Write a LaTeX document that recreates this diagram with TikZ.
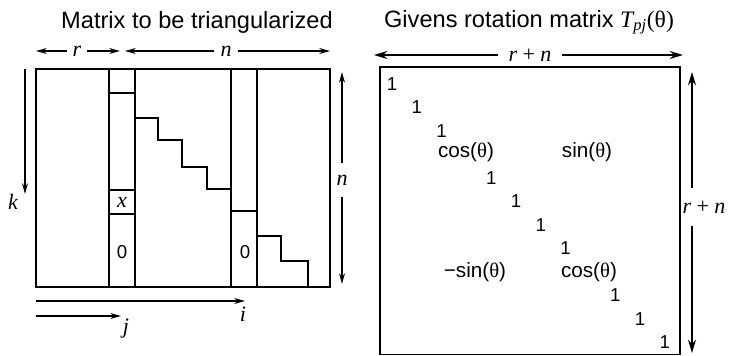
\documentclass[tikz,border=0pt]{standalone}
\usepackage{fontspec}
\setmainfont{Liberation Sans}
\newfontfamily\tms{Liberation Serif}
\usetikzlibrary{arrows.meta}
\newcommand{\mi}[1]{{\tms\itshape #1}}
\newcommand{\tht}{{\tms θ}}
\tikzset{
  frame/.style={draw=black,line width=1.4pt},
  rule/.style={black,line width=1.4pt},
  dim/.style={-{Stealth[length=8pt,width=4.4pt]},line width=1.2pt},
  bigdim/.style={-{Stealth[length=10pt,width=6pt]},line width=1.3pt},
  ttl/.style={font=\fontsize{17.7}{20}\selectfont},
  lab/.style={font=\fontsize{16.5}{19}\selectfont\tms\itshape,inner sep=1pt},
  one/.style={font=\fontsize{14}{16}\selectfont,inner sep=0pt},
  trig/.style={font=\fontsize{15.5}{18}\selectfont,inner sep=0pt},
}
\begin{document}
\begin{tikzpicture}[x=0.75pt,y=-0.75pt]
\useasboundingbox (0,0) rectangle (733,356);
% ================= Matrix to be triangularized =================
\node[ttl] (ttlA) at (197,22) {Matrix to be triangularized};
\draw[frame] (36,69) rectangle (330,287);
% columns j and i
\draw[rule] (109,69) -- (109,287) (135,69) -- (135,287);
\draw[rule] (231,69) -- (231,287) (257,69) -- (257,287);
\draw[rule] (109,93) -- (135,93);
\draw[rule] (109,190) -- (135,190) (109,214) -- (135,214);
\draw[rule] (231,211) -- (257,211);
% staircases
\draw[rule] (135,118) -| (158,140) -| (182,167) -| (207,189) -- (231,189);
\draw[rule] (257,236) -| (281,261) -| (308,287);
\node[lab] (xel) at (122,202) {x};
\node[one] (zj) at (122,252) {0};
\node[one] (zi) at (245,252) {0};
% dimensions
\coordinate (rL) at (36,51);  \coordinate (rR) at (120,51);
\coordinate (nL) at (125,51); \coordinate (nR) at (330,51);
\node[lab,inner xsep=4pt] (r) at (77,51) {r};
\node[lab,inner xsep=5pt] (n) at (226,51) {n};
\draw[dim] (r) -- (rL);  \draw[dim] (r) -- (rR);
\draw[dim] (n) -- (nL);  \draw[dim] (n) -- (nR);
\coordinate (kT) at (25,69); \coordinate (kB) at (25,194);
\draw[dim] (kT) -- (kB);
\node[lab] (k) at (13,202) {k};
\coordinate (vT) at (342,72); \coordinate (vB) at (342,284);
\node[lab,inner ysep=9pt] (nv) at (342,180) {n};
\draw[dim] (nv) -- (vT); \draw[dim] (nv) -- (vB);
\coordinate (bL) at (36,301); \coordinate (iR) at (245,301);
\coordinate (bL2) at (36,316); \coordinate (jR) at (121,316);
\draw[dim] (bL) -- (iR);
\draw[dim] (bL2) -- (jR);
\node[lab] (i) at (243,314) {i};
\node[lab] (j) at (126,329) {j};

% ================= Givens rotation matrix =================
\node[ttl] (ttlB) at (529,22) {Givens rotation matrix \mi{T}\textsubscript{\mi{pj}}{\tms(θ)}};
\draw[frame] (380,67) rectangle (680,354.5);
\coordinate (gL) at (374,55); \coordinate (gR) at (683,55);
\node[lab,inner xsep=8pt] (rn) at (530,55) {r {\upshape +} n};
\draw[bigdim] (rn) -- (gL); \draw[bigdim] (rn) -- (gR);
\coordinate (hT) at (692,72); \coordinate (hB) at (692,353);
\node[lab] (rnv) at (704,207) {r {\upshape +} n};
\draw[bigdim] (692,188) -- (hT); \draw[bigdim] (692,226) -- (hB);
% unit diagonal
\foreach \k in {0,1,2,4,5,6,7,9,10,11}{
  \node[one] (d\k) at (392+24.8*\k,84+23.5*\k) {1};
}
\node[trig] (cA) at (466,152) {cos(\tht)};
\node[trig] (sA) at (587,152) {sin(\tht)};
\node[trig] (sB) at (475,272) {−sin(\tht)};
\node[trig] (cB) at (589,272) {cos(\tht)};
\end{tikzpicture}
\end{document}
